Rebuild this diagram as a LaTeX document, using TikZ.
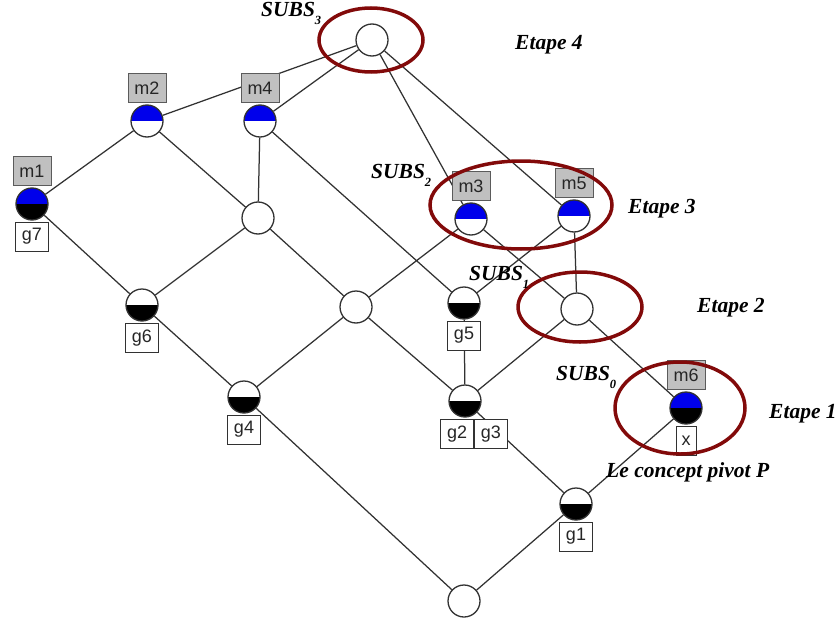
\documentclass[tikz,border=0pt]{standalone}
\usepackage{fontspec}
\setmainfont{Liberation Serif}
\newfontfamily\labfont{Liberation Sans}
\definecolor{edgec}{RGB}{50,50,50}
\definecolor{ellc}{RGB}{130,10,10}
\definecolor{boxgray}{RGB}{192,192,192}
\definecolor{cblue}{RGB}{0,0,235}
\newcommand\subslab[1]{\fontsize{21.5}{23}\selectfont\bfseries\itshape SUBS\raisebox{-8pt}{\fontsize{12.5}{13}\selectfont #1}}
\tikzset{
  conc/.style 2 args={circle, draw=edgec, line width=1.3pt, minimum size=32pt, inner sep=0pt,
    path picture={\fill[#1] (path picture bounding box.north west) rectangle (path picture bounding box.east);
                  \fill[#2] (path picture bounding box.west) rectangle (path picture bounding box.south east);}},
  emptyc/.style={conc={white}{white}},
  attr/.style={conc={cblue}{white}},
  pivot/.style={conc={cblue}{black}},
  obj/.style={conc={white}{black}},
  edge/.style={draw=edgec, line width=1.25pt},
  mlab/.style={draw=edgec!80, fill=boxgray, line width=0.9pt, font=\labfont\fontsize{18}{18}\selectfont, minimum width=38pt, minimum height=29pt, inner sep=0pt, text=black!85},
  glab/.style={draw=edgec, fill=white, line width=0.9pt, font=\labfont\fontsize{18}{18}\selectfont, minimum width=33pt, minimum height=29pt, inner sep=0pt, text=black!85},
  stage/.style={draw=ellc, line width=3.5pt},
  anno/.style={font=\fontsize{21.5}{23}\selectfont\bfseries\itshape}
}
\begin{document}
\begin{tikzpicture}[x=1pt,y=-1pt]
\useasboundingbox (0,0) rectangle (837,623);
% concepts
\node[emptyc] (T) at (372,40) {};
\node[attr] (m2) at (147,121) {};
\node[attr] (m4) at (260,121) {};
\node[pivot] (m1) at (32,204) {};
\node[emptyc] (A) at (258,218) {};
\node[attr] (m3) at (471,219) {};
\node[attr] (m5) at (574,216) {};
\node[obj] (g6) at (142,305) {};
\node[emptyc] (B) at (356,307) {};
\node[obj] (g5) at (464,303) {};
\node[emptyc] (S1) at (577,309) {};
\node[obj] (g4) at (244,397) {};
\node[obj] (g23) at (465,401) {};
\node[pivot] (m6) at (686,408) {};
\node[obj] (g1) at (576,504) {};
\node[emptyc] (Bot) at (464,601) {};
% edges
\path[edge] (T) -- (m2) (T) -- (m4) (T) -- (m3) (T) -- (m5)
  (m2) -- (m1) (m2) -- (A) (m4) -- (A) (m4) -- (g5)
  (m1) -- (g6) (A) -- (g6) (A) -- (B) (m3) -- (B) (m3) -- (S1)
  (m5) -- (g5) (m5) -- (S1) (g6) -- (g4) (B) -- (g4) (B) -- (g23)
  (g4) -- (Bot) (g5) -- (g23) (S1) -- (g23) (S1) -- (m6)
  (g23) -- (g1) (g1) -- (Bot) (g1) -- (m6);
% labels
\node[mlab, anchor=south] (lm2) at ([yshift=1pt]m2.north) {m2};
\node[mlab, anchor=south] (lm4) at ([yshift=1pt]m4.north) {m4};
\node[mlab, anchor=south] (lm1) at ([yshift=1pt]m1.north) {m1};
\node[mlab, anchor=south] (lm3) at ([yshift=1pt]m3.north) {m3};
\node[mlab, anchor=south] (lm5) at ([yshift=1pt]m5.north) {m5};
\node[mlab, anchor=south] (lm6) at ([yshift=1pt]m6.north) {m6};
\node[glab, anchor=north] (lg7) at ([yshift=-1pt]m1.south) {g7};
\node[glab, anchor=north] (lg6) at ([yshift=-1pt]g6.south) {g6};
\node[glab, anchor=north] (lg5) at ([yshift=-1pt]g5.south) {g5};
\node[glab, anchor=north] (lg4) at ([yshift=-1pt]g4.south) {g4};
\node[glab, anchor=north] (lg1) at ([yshift=-1pt]g1.south) {g1};
\node[glab, anchor=north east] (lg2) at ([yshift=-1pt,xshift=9pt]g23.south) {g2};
\node[glab, anchor=north west] (lg3) at (lg2.north east) {g3};
\node[glab, anchor=north, minimum width=20pt] (lx) at ([yshift=-1pt]m6.south) {x};
% stage ellipses
\draw[stage] (371,40) ellipse [x radius=52, y radius=32];
\draw[stage] (521,205) ellipse [x radius=91, y radius=44];
\draw[stage] (580,307) ellipse [x radius=62, y radius=35];
\draw[stage] (680,408) ellipse [x radius=65, y radius=46];
% annotations
\node[anchor=base west, inner sep=0pt] (s3) at (261,17) {\subslab{3}};
\node[anchor=base west, inner sep=0pt] (s2) at (371,178) {\subslab{2}};
\node[anchor=base west, inner sep=0pt] (s1) at (469,280) {\subslab{1}};
\node[anchor=base west, inner sep=0pt] (s0) at (556,380) {\subslab{0}};
\node[anno, anchor=base west, inner sep=0pt] (e4) at (515,50) {Etape 4};
\node[anno, anchor=base west, inner sep=0pt] (e3) at (628,213) {Etape 3};
\node[anno, anchor=base west, inner sep=0pt] (e2) at (697,312) {Etape 2};
\node[anno, anchor=base west, inner sep=0pt] (e1) at (769,418) {Etape 1};
\node[anno, anchor=base west, inner sep=0pt] (piv) at (606,477) {Le concept pivot P};
\end{tikzpicture}
\end{document}
